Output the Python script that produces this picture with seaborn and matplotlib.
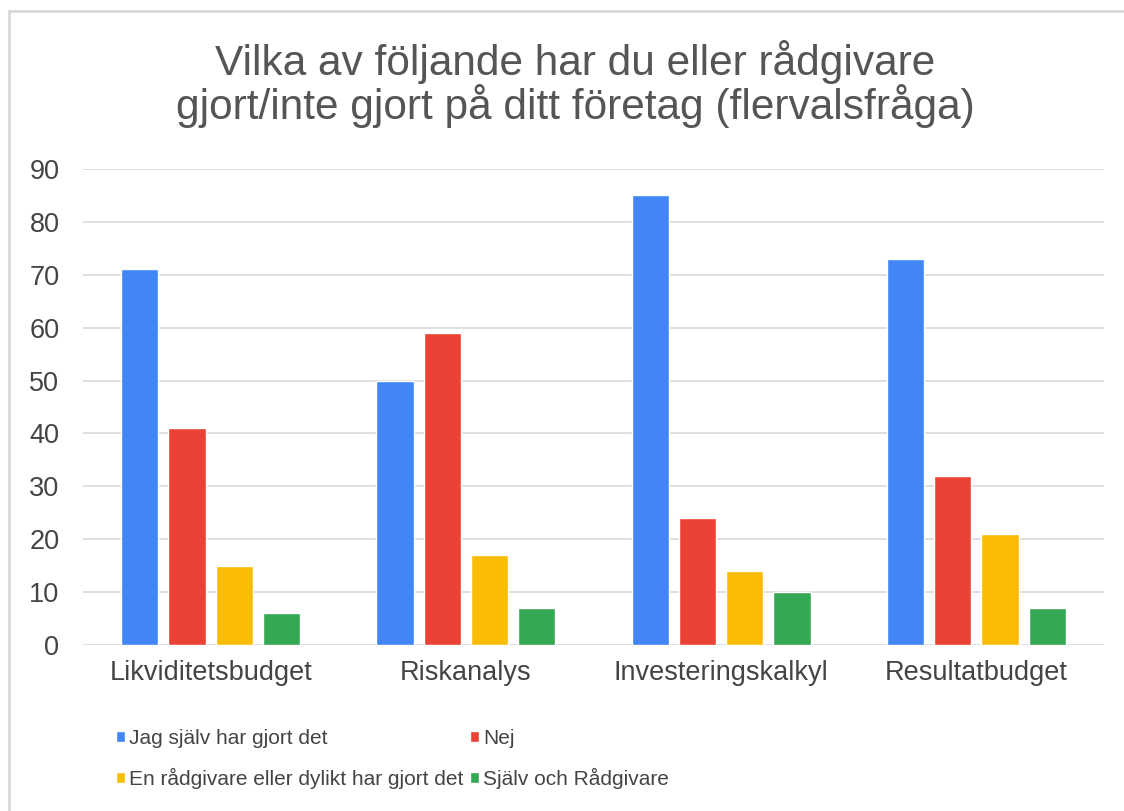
import pandas as pd
import matplotlib.pyplot as plt
import seaborn as sns
from matplotlib.patches import Rectangle

categories = ["Likviditetsbudget", "Riskanalys", "Investeringskalkyl", "Resultatbudget"]
series = ["Jag själv har gjort det", "Nej",
          "En rådgivare eller dylikt har gjort det", "Själv och Rådgivare"]
jag_sjalv = [71, 50, 85, 73]
nej = [41, 59, 24, 32]
radgivare = [15, 17, 14, 21]
sjalv_och_radgivare = [6, 7, 10, 7]
colors = ["#4285F4", "#EA4335", "#FBBC04", "#34A853"]

rows = []
for s, vals in zip(series, [jag_sjalv, nej, radgivare, sjalv_och_radgivare]):
    for c, v in zip(categories, vals):
        rows.append({"Kategori": c, "Serie": s, "Antal": v})
df = pd.DataFrame(rows)

sns.set_theme(style="white")
plt.rcParams["font.family"] = ["Liberation Sans", "DejaVu Sans"]

fig = plt.figure(figsize=(11.24, 8.11), dpi=100)
ax = fig.add_axes([83 / 1124, 1 - 645 / 811, (1104 - 83) / 1124, (645 - 169) / 811])

sns.barplot(data=df, x="Kategori", y="Antal", hue="Serie", hue_order=series,
            palette=colors, width=0.74, gap=0.21, saturation=1, ax=ax)

ax.set_ylim(0, 90)
ax.set_yticks(range(0, 91, 10))
ax.yaxis.grid(True, color="#d9d9d9", linewidth=1.2)
ax.set_axisbelow(True)
for sp in ax.spines.values():
    sp.set_visible(False)
ax.set_xlabel("")
ax.set_ylabel("")
ax.tick_params(axis="y", length=0, pad=17, labelsize=19.5, labelcolor="#444444")
ax.tick_params(axis="x", length=0, pad=11, labelsize=19.5, labelcolor="#444444")

handles, labels = ax.get_legend_handles_labels()
ax.get_legend().remove()
order = [0, 2, 1, 3]
fig.legend([handles[i] for i in order], [labels[i] for i in order],
           ncol=2, loc="upper left", bbox_to_anchor=(97 / 1124, 1 - 710 / 811),
           frameon=False, fontsize=15, handlelength=0.45, handleheight=0.45,
           handletextpad=0.2, columnspacing=0.3, labelspacing=0.95,
           labelcolor="#444444")

fig.text(575 / 1124, 1 - 84 / 811,
         "Vilka av följande har du eller rådgivare\ngjort/inte gjort på ditt företag (flervalsfråga)",
         ha="center", va="center", fontsize=30.5, color="#555555", linespacing=1.02)

fig.patches.append(Rectangle((9 / 1124, -0.1), 2, (811 - 11) / 811 + 0.1,
                             transform=fig.transFigure, fill=False,
                             edgecolor="#d9d9d9", linewidth=2))

fig.savefig("out.png", dpi=100, facecolor="white")
